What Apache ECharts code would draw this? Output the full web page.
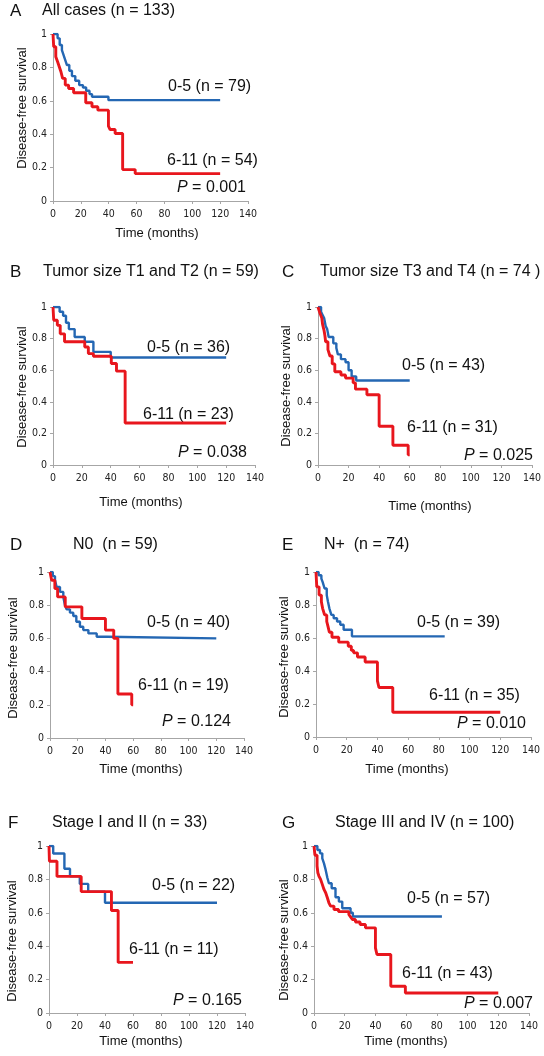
<!DOCTYPE html>
<html><head><meta charset="utf-8">
<script src="https://cdn.jsdelivr.net/npm/echarts@6/dist/echarts.min.js"></script>
<style>html,body{margin:0;padding:0;background:#fff}#c{width:544px;height:1056px}</style>
</head><body><div id="c"></div>
<script>
// ---- tick labels ----
const xTickValues = [0, 20, 40, 60, 80, 100, 120, 140];
const yTickLabels = ['0', '0.2', '0.4', '0.6', '0.8', '1'];

// ---- texts ----
const panelLetters = ['A', 'B', 'C', 'D', 'E', 'F', 'G'];
const panelTitles = ['All cases (n = 133)', 'Tumor size T1 and T2 (n = 59)', 'Tumor size T3 and T4 (n = 74 )',
  'N0  (n = 59)', 'N+  (n = 74)', 'Stage I and II (n = 33)', 'Stage III and IV (n = 100)'];
const lowLabels = ['0-5 (n = 79)', '0-5 (n = 36)', '0-5 (n = 43)', '0-5 (n = 40)', '0-5 (n = 39)', '0-5 (n = 22)', '0-5 (n = 57)'];
const highLabels = ['6-11 (n = 54)', '6-11 (n = 23)', '6-11 (n = 31)', '6-11 (n = 19)', '6-11 (n = 35)', '6-11 (n = 11)', '6-11 (n = 43)'];
const pValues = ['0.001', '0.038', '0.025', '0.124', '0.010', '0.165', '0.007'];

// ---- survival step data [months, survival] ----
const aLow = [[0,1],[3.3,0.974],[4.8,0.934],[6.4,0.904],[7.6,0.874],[8.8,0.844],[10,0.814],[11.7,0.78],[13.6,0.748],[16,0.72],[18.8,0.694],[21.5,0.68],[23.8,0.66],[26.2,0.64],[28,0.624],[39.8,0.604],[120,0.604]];
const aHigh = [[0,1],[0.5,0.924],[2,0.864],[3.3,0.834],[4.5,0.804],[5.7,0.774],[6.9,0.734],[8.8,0.694],[11.2,0.674],[14.8,0.648],[23.5,0.588],[28,0.564],[32.2,0.544],[39.8,0.448],[41,0.428],[44.6,0.404],[50,0.188],[59,0.164],[120,0.164]];

const bLow = [[0,1],[4.6,0.97],[7,0.945],[9,0.9],[11,0.86],[15,0.81],[22,0.78],[28,0.716],[40,0.68],[120,0.68]];
const bHigh = [[0,1],[0.5,0.916],[3,0.884],[5,0.83],[8,0.78],[22,0.747],[24.5,0.705],[28,0.688],[40.4,0.642],[44,0.594],[50,0.266],[120,0.266]];

const cLow = [[0,1],[2,0.97],[3,0.95],[4,0.93],[5,0.88],[6,0.86],[7,0.81],[10,0.77],[12,0.74],[13,0.70],[15,0.67],[18,0.65],[20,0.60],[22,0.56],[25,0.535],[60,0.535]];
const cHigh = [[0,1],[1.3,0.96],[2.5,0.93],[3,0.89],[4,0.85],[4.5,0.82],[5,0.78],[6.5,0.73],[7.8,0.69],[9.3,0.64],[11,0.59],[15,0.57],[18,0.55],[23,0.52],[24.5,0.48],[32,0.445],[40,0.245],[49,0.125],[59,0.065],[60,0.065]];

const dLow = [[0,1],[2,0.975],[3.6,0.95],[4.8,0.91],[7.2,0.88],[9.6,0.85],[10.8,0.80],[12,0.775],[14.4,0.755],[16.8,0.735],[19,0.70],[21.6,0.67],[24,0.65],[27.7,0.63],[33.7,0.61],[40.9,0.60],[120,0.60]];
const dHigh = [[0,1],[1.2,0.95],[3.5,0.9],[5.5,0.85],[11,0.79],[23,0.72],[40,0.65],[46,0.6],[49,0.265],[59,0.2],[60,0.2]];

const eLow = [[0,1],[1.7,0.98],[3.5,0.96],[4.3,0.94],[5.6,0.90],[7,0.86],[7.8,0.82],[8.7,0.78],[10,0.74],[11.5,0.72],[13.7,0.70],[15.8,0.68],[18,0.65],[23.4,0.61],[83.8,0.61]];
const eHigh = [[0,1],[0.5,0.91],[2,0.86],[3.5,0.82],[4.3,0.78],[5.6,0.74],[7,0.70],[7.8,0.67],[8.7,0.635],[10.4,0.605],[14.8,0.575],[21,0.55],[23,0.525],[24.5,0.51],[27,0.485],[32,0.455],[40,0.34],[41,0.30],[50,0.15],[120,0.15]];

const fLow = [[0,1],[3,0.955],[11,0.864],[15,0.818],[22,0.773],[28,0.727],[40,0.66],[120,0.66]];
const fHigh = [[0,1],[0.3,0.909],[5.7,0.818],[23,0.727],[44.6,0.614],[49.4,0.303],[60,0.303]];

const gLow = [[0,1],[2.2,0.976],[3.9,0.956],[5.4,0.926],[6.5,0.896],[7.6,0.857],[8.7,0.81],[9.7,0.777],[11.5,0.747],[14,0.693],[16.2,0.667],[18.4,0.627],[23.8,0.60],[25.3,0.578],[83.3,0.578]];
const gHigh = [[0,1],[0.6,0.945],[2,0.88],[2.5,0.84],[3.2,0.82],[4.3,0.80],[5.4,0.77],[6.5,0.74],[7.6,0.72],[8.7,0.69],[9.7,0.66],[10.8,0.64],[13,0.62],[16,0.607],[22.7,0.59],[23.8,0.575],[25,0.56],[27,0.545],[30,0.53],[33.5,0.51],[40,0.39],[41,0.35],[50,0.16],[59.5,0.12],[120,0.12]];

const lowSeries = [aLow, bLow, cLow, dLow, eLow, fLow, gLow];
const highSeries = [aHigh, bHigh, cHigh, dHigh, eHigh, fHigh, gHigh];

// ---- layout (pixel positions) ----
const layout = [
  {grid:[53,34,195,167],  letter:[10,11],  title:[42,11],  ylab:[22,108], xlab:[157,233], lo:[168,87],  hi:[167,161], p:[177,188]},
  {grid:[53,307,202,158], letter:[10,272], title:[43,272], ylab:[22,387], xlab:[141,502], lo:[147,348], hi:[143,415], p:[178,453]},
  {grid:[318,307,216,158],letter:[282,272],title:[320,272],ylab:[286,386],xlab:[430,506], lo:[402,366], hi:[407,428], p:[464,456]},
  {grid:[50,572,194,166], letter:[10,545], title:[73,545], ylab:[13,658], xlab:[141,769], lo:[147,623], hi:[138,686], p:[162,722]},
  {grid:[316,572,215,165],letter:[282,545],title:[324,545],ylab:[284,657],xlab:[407,769], lo:[417,623], hi:[429,696], p:[457,724]},
  {grid:[49,846,196,167], letter:[8,823],  title:[52,823], ylab:[12,941], xlab:[141,1041],lo:[152,886], hi:[129,950], p:[173,1001]},
  {grid:[314,846,215,167],letter:[282,823],title:[335,823],ylab:[284,940],xlab:[406,1041],lo:[407,899], hi:[402,974], p:[464,1004]}
];

const BLUE = '#2467b3', RED = '#e8161d', AXIS = '#a6a6a6';
const SANS = '"Liberation Sans", Arial, sans-serif';
const NARROW = '"Liberation Sans Narrow", "DejaVu Sans Condensed", sans-serif';

const grids = [], xAxes = [], yAxes = [], series = [], graphics = [];
layout.forEach((L, i) => {
  grids.push({left: L.grid[0], top: L.grid[1], width: L.grid[2], height: L.grid[3], containLabel: false});
  xAxes.push({
    type: 'value', gridIndex: i, min: xTickValues[0], max: xTickValues[xTickValues.length - 1], interval: 20,
    axisLine: {show: true, onZero: false, lineStyle: {color: AXIS, width: 1}},
    axisTick: {show: true, inside: false, length: 3, lineStyle: {color: AXIS}},
    splitLine: {show: false},
    axisLabel: {fontFamily: NARROW, fontSize: 10.5, color: '#222', margin: 8}
  });
  yAxes.push({
    type: 'value', gridIndex: i, min: 0, max: 1, interval: 0.2,
    axisLine: {show: true, onZero: false, lineStyle: {color: AXIS, width: 1}},
    axisTick: {show: true, inside: false, length: 3, lineStyle: {color: AXIS}},
    splitLine: {show: false},
    axisLabel: {fontFamily: NARROW, fontSize: 10.5, color: '#222', margin: 6,
      formatter: v => yTickLabels[Math.round(v / 0.2)]}
  });
  series.push({type: 'line', xAxisIndex: i, yAxisIndex: i, step: 'end', data: lowSeries[i],
    showSymbol: false, symbol: 'none', lineStyle: {color: BLUE, width: 2.4}, silent: true, animation: false});
  series.push({type: 'line', xAxisIndex: i, yAxisIndex: i, step: 'end', data: highSeries[i],
    showSymbol: false, symbol: 'none', lineStyle: {color: RED, width: 2.9}, silent: true, animation: false});

  const txt = (x, y, text, size, extra) => Object.assign({type: 'text', x: x, y: y, silent: true,
    style: {text: text, fill: '#111', font: size + 'px ' + SANS, verticalAlign: 'middle', align: 'left'}}, extra || {});
  graphics.push(txt(L.letter[0], L.letter[1], panelLetters[i], 17));
  graphics.push(txt(L.title[0], L.title[1], panelTitles[i], 16));
  graphics.push(txt(L.lo[0], L.lo[1], lowLabels[i], 16));
  graphics.push(txt(L.hi[0], L.hi[1], highLabels[i], 16));
  graphics.push({type: 'text', x: L.p[0], y: L.p[1], silent: true,
    style: {text: '{i|P} = ' + pValues[i], fill: '#111', font: '16px ' + SANS, verticalAlign: 'middle', align: 'left',
      rich: {i: {fontStyle: 'italic', fontSize: 16, fontFamily: SANS, fill: '#111'}}}});
  graphics.push({type: 'text', x: L.xlab[0], y: L.xlab[1], silent: true,
    style: {text: 'Time (months)', fill: '#111', font: '13px ' + SANS, verticalAlign: 'middle', align: 'center'}});
  graphics.push({type: 'text', x: L.ylab[0], y: L.ylab[1], rotation: Math.PI / 2, silent: true,
    style: {text: 'Disease-free survival', fill: '#111', font: '13px ' + SANS, verticalAlign: 'middle', align: 'center'}});
});

const chart = echarts.init(document.getElementById('c'), null, {renderer: 'canvas'});
chart.setOption({
  animation: false,
  backgroundColor: '#fff',
  grid: grids, xAxis: xAxes, yAxis: yAxes, series: series,
  graphic: graphics
});
</script></body></html>
